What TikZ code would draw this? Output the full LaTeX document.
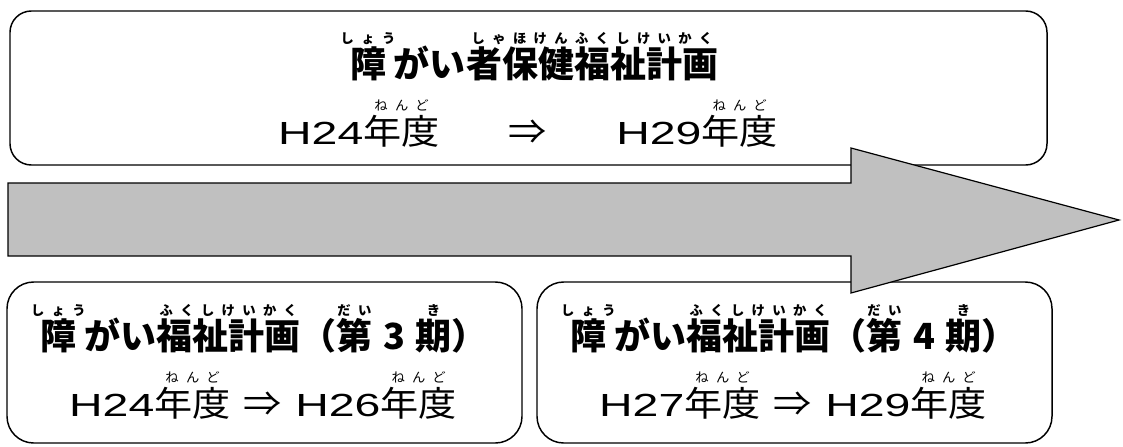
\documentclass[tikz,border=0pt]{standalone}
\usepackage{fontspec}
\setmainfont{Noto Sans CJK JP}
\newfontfamily\titlefamily{Noto Sans CJK JP}
\newfontfamily\periodfamily[FakeStretch=1.1]{Noto Sans CJK JP}
\newfontfamily\latinfamily[FakeStretch=1.45]{Liberation Sans}
\newfontfamily\rubyfamily[LetterSpace=55]{Noto Sans CJK JP}
\definecolor{arrowgray}{RGB}{192,192,192}

% furigana over a base text
\newcommand{\rb}[2]{\leavevmode\setbox0=\hbox{#1}%
  \rlap{\hbox to \wd0{\hss\raisebox{25pt}{\rubyfamily\fontsize{10pt}{10pt}\selectfont #2}\hss}}\box0}
% fiscal year, e.g. H24 + nendo
\newcommand{\fy}[1]{{\latinfamily\fontsize{24pt}{24pt}\selectfont H#1}\rb{年度}{ねんど}}

\tikzset{
  planbox/.style={draw=black, line width=1.1pt, fill=white},
  flowarrow/.style={draw=black, line width=0.9pt, fill=arrowgray, line join=miter},
  titletext/.style={anchor=base, inner sep=0pt, font=\titlefamily\bfseries\fontsize{27pt}{27pt}\selectfont},
  periodtext/.style={anchor=base, inner sep=0pt, font=\periodfamily\fontsize{26pt}{26pt}\selectfont}
}

\begin{document}
\begin{tikzpicture}[x=0.75pt, y=-0.75pt]
  \useasboundingbox (0,0) rectangle (1123,446);
  % plan boxes
  \draw[planbox, rounded corners=16pt] (10,11) rectangle (1047,165);
  \draw[planbox, rounded corners=20pt] (7,282) rectangle (522,443);
  \draw[planbox, rounded corners=20pt] (537,282) rectangle (1052,443);
  % big arrow, on top of the boxes
  \draw[flowarrow] (8,183) -- (851,183) -- (851,148) -- (1119,220)
    -- (851,293) -- (851,256) -- (8,256) -- cycle;
  % whole plan
  \node[titletext] (masterTitle) at (534,77)
    {\rb{障}{しょう}\hspace{6pt}がい\rb{者保健福祉計画}{しゃほけんふくしけいかく}};
  \node[periodtext] (masterPeriod) at (528,144) {\fy{24}\hspace{52pt}⇒\hspace{52pt}\fy{29}};
  % third term
  \node[titletext] (thirdTitle) at (264,349)
    {\rb{障}{しょう}\hspace{6pt}がい\rb{福祉計画}{ふくしけいかく}（\rb{第}{だい}\hspace{8pt}3\hspace{8pt}\rb{期}{き}）};
  \node[periodtext] (thirdPeriod) at (263,416) {\fy{24}\hspace{10pt}⇒\hspace{10pt}\fy{26}};
  % fourth term
  \node[titletext] (fourthTitle) at (794,349)
    {\rb{障}{しょう}\hspace{6pt}がい\rb{福祉計画}{ふくしけいかく}（\rb{第}{だい}\hspace{8pt}4\hspace{8pt}\rb{期}{き}）};
  \node[periodtext] (fourthPeriod) at (793,416) {\fy{27}\hspace{10pt}⇒\hspace{10pt}\fy{29}};
\end{tikzpicture}
\end{document}
